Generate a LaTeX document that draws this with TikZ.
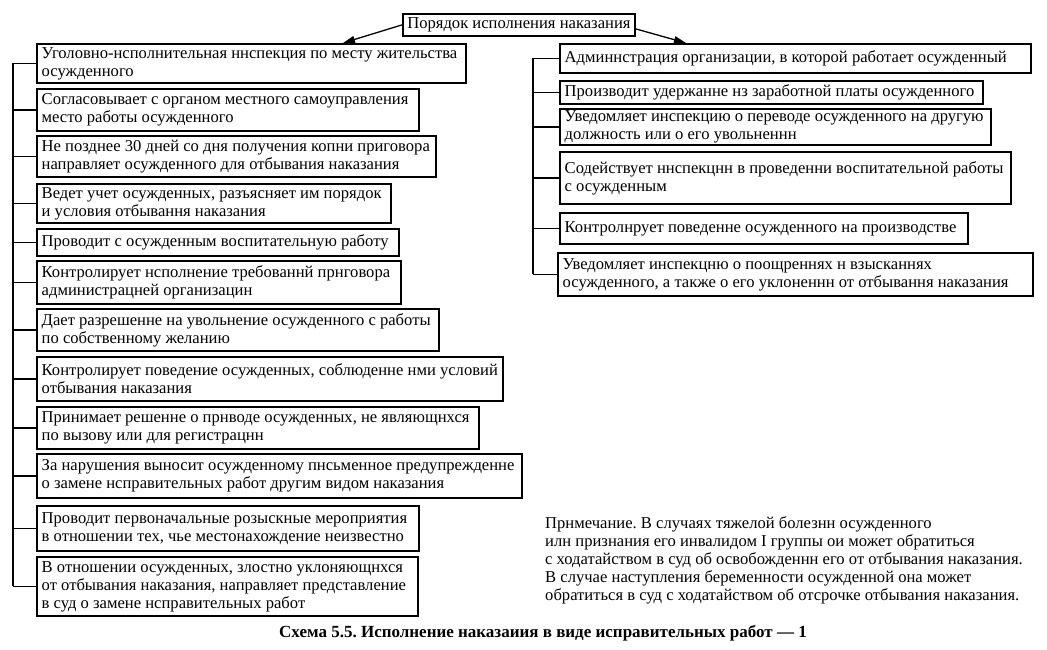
\documentclass[tikz,border=0pt]{standalone}
\usepackage{fontspec}
\setmainfont{Liberation Serif}
\usetikzlibrary{arrows.meta}
\frenchspacing
\tikzset{
  bx/.style={draw, line width=1.8pt, anchor=north west, inner sep=0pt},
  tx/.style={anchor=west, align=left, inner sep=0pt, font=\fontsize{16.6}{18}\selectfont},
  ln/.style={line width=1.7pt},
  arr/.style={line width=1.3pt, -{Triangle[length=12pt,width=7pt]}},
}
\newcommand{\mybox}[6]{\node[bx, minimum width=#4pt, minimum height=#5pt] (#1) at (#2,-#3) {};
  \node[tx] (#1t) at ([xshift=5.5pt]#1.west) {#6};}
\begin{document}
\begin{tikzpicture}[x=1pt,y=1pt]
\useasboundingbox (0,0) rectangle (1047,-650);
% top
\node[bx, minimum width=232pt, minimum height=22pt, font=\fontsize{16.6}{18}\selectfont] (top) at (402,-13) {Порядок исполнения наказания};
% left column
\mybox{L1}{36}{43}{429}{39}{Уголовно-нсполнительная ннспекция по месту жительства\\осужденного}
\mybox{L2}{36}{88}{382}{42}{Согласовывает с органом местного самоуправления\\место работы осужденного}
\mybox{L3}{36}{135}{399}{41}{Не позднее 30 дней со дня получения копни приговора\\направляет осужденного для отбывания наказания}
\mybox{L4}{36}{183}{354}{39}{Ведет учет осужденных, разъясняет им порядок\\и условия отбывання наказания}
\mybox{L5}{36}{228}{362}{27}{Проводит с осужденным воспитательную работу}
\mybox{L6}{36}{260}{364}{43}{Контролирует нсполнение требованнй прнговора\\администрацней организацин}
\mybox{L7}{36}{308}{402}{42}{Дает разрешенне на увольнение осужденного с работы\\по собственному желанию}
\mybox{L8}{36}{356}{466}{44}{Контролирует поведение осужденных, соблюденне нми условий\\отбывания наказания}
\mybox{L9}{36}{406}{442}{42}{Принимает решенне о прнводе осужденных, не являющнхся\\по вызову или для регистрацнн}
\mybox{L10}{36}{453}{485}{44}{За нарушения выносит осужденному пнсьменное предупрежденне\\о замене нсправительных работ другим видом наказания}
\mybox{L11}{36}{505}{382}{45}{Проводит первоначальные розыскные мероприятия\\в отношении тех, чье местонахождение неизвестно}
\mybox{L12}{36}{556}{381}{59}{В отношении осужденных, злостно уклоняющнхся\\от отбывания наказания, направляет представление\\в суд о замене нсправительных работ}
% right column
\mybox{R1}{559}{43}{471}{29}{Админнстрация организации, в которой работает осужденный}
\mybox{R2}{559}{80}{423}{23}{Производит удержанне нз заработной платы осужденного}
\mybox{R3}{559}{108}{431}{36}{Уведомляет инспекцию о переводе осужденного на другую\\должность или о его увольненнн}
\mybox{R4}{559}{151}{451}{52}{Содействует ннспекцнн в проведенни воспитательной работы\\с осужденным}
\mybox{R5}{559}{212}{408}{31}{Контролнрует поведенне осужденного на производстве}
\mybox{R6}{557}{252}{475}{43}{Уведомляет инспекцню о поощреннях н взысканнях\\осужденного, а также о его уклоненнн от отбывання наказания}
% trunks
\coordinate (lt) at (13,0);
\coordinate (rt) at (533,0);
\draw[ln] (lt |- L1.west) -- (lt |- L12.west);
\foreach \n in {L1,L2,L3,L4,L5,L6,L7,L8,L9,L10,L11,L12} \draw[ln] (lt |- \n.west) -- (\n.west);
\draw[ln] (rt |- R1.west) -- (rt |- R6.west);
\foreach \n in {R1,R2,R3,R4,R5,R6} \draw[ln] (rt |- \n.west) -- (\n.west);
% arrows
\coordinate (la) at (343,-43);
\coordinate (ra) at (686,-43);
\draw[arr] (top.west) -- (la);
\draw[arr] ([yshift=-4pt]top.east) -- (ra);
% note
\node[anchor=north west, align=left, inner sep=0pt, font=\fontsize{16.6}{18.2}\selectfont] (note) at (545,-516) {Прнмечание. В случаях тяжелой болезнн осужденного\\илн признания его инвалидом I группы ои может обратиться\\с ходатайством в суд об освобожденнн его от отбывания наказания.\\В случае наступления беременности осужденной она может\\обратиться в суд с ходатайством об отсрочке отбывания наказания.};
% caption
\node[font=\fontsize{17}{20}\selectfont\bfseries, inner sep=0pt] (cap) at (543,-633) {Схема 5.5. Исполнение наказаиия в виде исправительных работ — 1};
\end{tikzpicture}
\end{document}
